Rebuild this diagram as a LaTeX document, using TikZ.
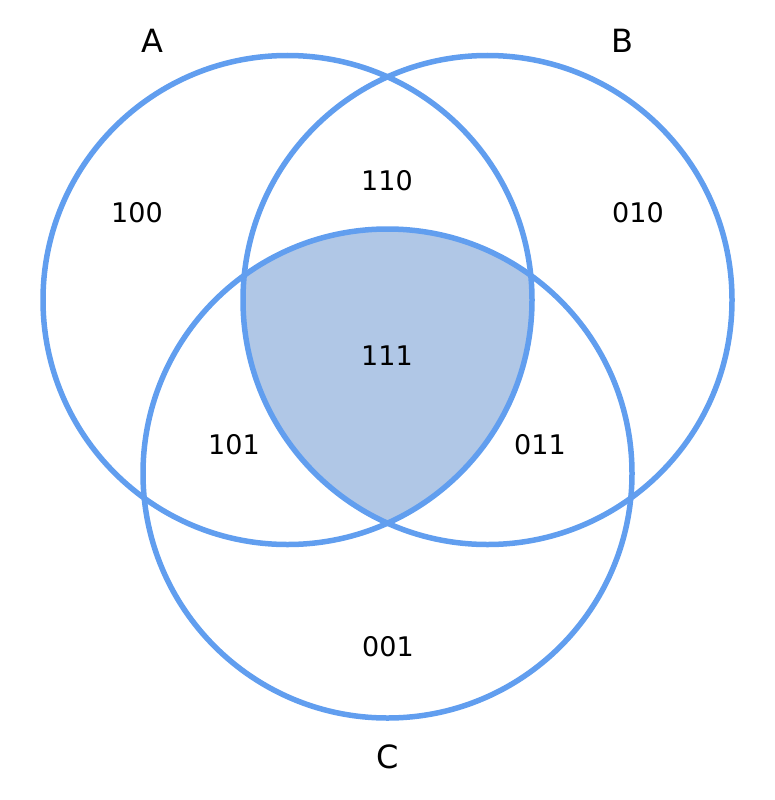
\documentclass[tikz,border=0pt]{standalone}
\usepackage{fontspec}
\setmainfont{DejaVu Sans}
\definecolor{vline}{RGB}{97,158,239}
\definecolor{vfill}{RGB}{176,199,230}
\tikzset{
  vcircle/.style={draw=vline, line width=5.5pt},
  numlabel/.style={inner sep=0pt, font=\fontsize{27}{27}\selectfont},
  setlabel/.style={inner sep=0pt, font=\fontsize{32}{32}\selectfont},
}
\begin{document}
\begin{tikzpicture}[x=1pt,y=-1pt]
\useasboundingbox (0,0) rectangle (775,800);
\coordinate (ca) at (287.5,300);
\coordinate (cb) at (487.5,300);
\coordinate (cc) at (387.5,473.5);
\begin{scope}
  \clip (ca) circle[radius=244.5];
  \clip (cb) circle[radius=244.5];
  \fill[vfill] (cc) circle[radius=244.5];
\end{scope}
\draw[vcircle] (ca) circle[radius=244.5];
\draw[vcircle] (cb) circle[radius=244.5];
\draw[vcircle] (cc) circle[radius=244.5];
\node[setlabel] (la) at (152,41) {A};
\node[setlabel] (lb) at (622,41) {B};
\node[setlabel] (lc) at (388,757) {C};
\node[numlabel] (n100) at (137,213) {100};
\node[numlabel] (n110) at (387,181) {110};
\node[numlabel] (n010) at (638,213) {010};
\node[numlabel] (n111) at (387,356) {111};
\node[numlabel] (n101) at (234,445) {101};
\node[numlabel] (n011) at (540,445) {011};
\node[numlabel] (n001) at (388,647) {001};
\end{tikzpicture}
\end{document}
